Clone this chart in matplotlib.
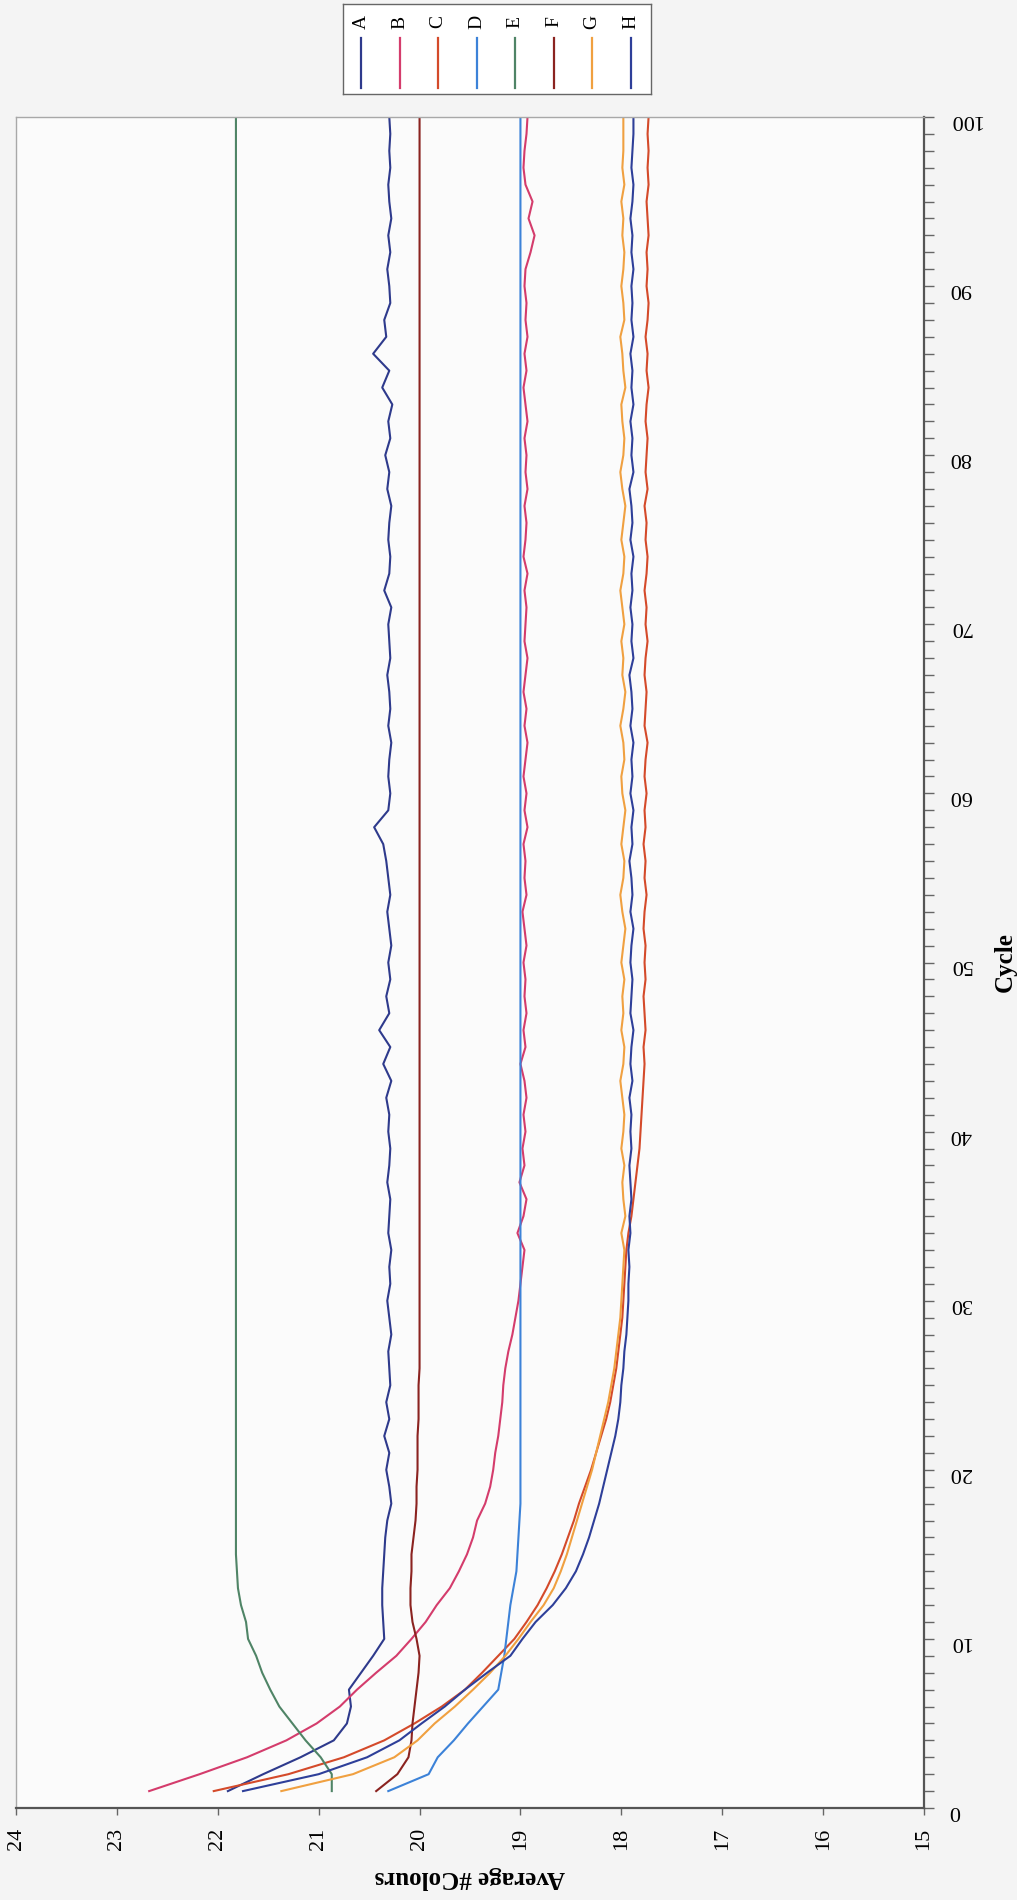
import matplotlib
matplotlib.use('Agg')
from matplotlib import pyplot as plt
from matplotlib.ticker import MultipleLocator

plt.rcParams['font.family'] = ['Liberation Serif', 'DejaVu Serif']

cycles = list(range(1, 101))
names = ['A', 'B', 'C', 'D', 'E', 'F', 'G', 'H']
colours = ['#2e3a8c', '#d43c6c', '#d44a2a', '#3c82d8', '#4f8466', '#8b2320', '#f0a040', '#2e3f99']

A = [21.90, 21.55, 21.18, 20.85, 20.72, 20.68, 20.70, 20.58, 20.46, 20.35,
     20.36, 20.37, 20.37, 20.36, 20.35, 20.34, 20.32, 20.28, 20.30, 20.33,
     20.30, 20.35, 20.30, 20.33, 20.29, 20.30, 20.31, 20.28, 20.30, 20.32,
     20.29, 20.30, 20.28, 20.31, 20.30, 20.29, 20.32, 20.30, 20.29, 20.31,
     20.30, 20.33, 20.28, 20.36, 20.29, 20.40, 20.30, 20.33, 20.29, 20.31,
     20.28, 20.30, 20.32, 20.29, 20.31, 20.33, 20.36, 20.45, 20.31, 20.29,
     20.31, 20.30, 20.28, 20.31, 20.29, 20.30, 20.32, 20.29, 20.30, 20.31,
     20.28, 20.35, 20.30, 20.29, 20.31, 20.30, 20.28, 20.32, 20.30, 20.34,
     20.29, 20.31, 20.27, 20.37, 20.30, 20.46, 20.33, 20.35, 20.29, 20.30,
     20.32, 20.29, 20.31, 20.28, 20.30, 20.31, 20.29, 20.30, 20.29, 20.30]

B = [22.68, 22.18, 21.71, 21.32, 21.02, 20.79, 20.62, 20.43, 20.23, 20.08,
     19.94, 19.83, 19.70, 19.61, 19.53, 19.47, 19.43, 19.35, 19.30, 19.27,
     19.25, 19.22, 19.20, 19.18, 19.17, 19.15, 19.12, 19.08, 19.05, 19.02,
     19.00, 18.98, 18.96, 19.03, 18.97, 18.94, 19.01, 18.96, 18.98, 18.95,
     18.97, 18.94, 18.96, 19.00, 18.95, 18.97, 18.94, 18.96, 18.95, 18.97,
     18.94, 18.96, 18.98, 18.94, 18.96, 18.95, 18.97, 18.93, 18.96, 18.94,
     18.97, 18.95, 18.93, 18.96, 18.94, 18.97, 18.95, 18.93, 18.96, 18.95,
     18.94, 18.96, 18.93, 18.97, 18.95, 18.94, 18.96, 18.93, 18.95, 18.94,
     18.96, 18.93, 18.95, 18.97, 18.94, 18.96, 18.93, 18.95, 18.94, 18.96,
     18.95, 18.90, 18.86, 18.92, 18.88, 18.95, 18.97, 18.96, 18.94, 18.93]

C = [22.04, 21.30, 20.75, 20.35, 20.05, 19.78, 19.55, 19.38, 19.22, 19.06,
     18.94, 18.83, 18.74, 18.66, 18.59, 18.53, 18.47, 18.42, 18.36, 18.30,
     18.25, 18.20, 18.15, 18.11, 18.08, 18.05, 18.03, 18.01, 17.99, 17.98,
     17.97, 17.96, 17.95, 17.93, 17.90, 17.88, 17.86, 17.84, 17.82, 17.81,
     17.80, 17.79, 17.78, 17.77, 17.78, 17.76, 17.77, 17.78, 17.76, 17.77,
     17.76, 17.78, 17.77, 17.75, 17.77, 17.76, 17.78, 17.76, 17.77, 17.75,
     17.77, 17.76, 17.74, 17.77, 17.76, 17.75, 17.77, 17.76, 17.74, 17.76,
     17.75, 17.77, 17.75, 17.74, 17.76, 17.75, 17.77, 17.74, 17.76, 17.75,
     17.74, 17.76, 17.75, 17.73, 17.75, 17.74, 17.76, 17.74, 17.73, 17.75,
     17.74, 17.75, 17.73, 17.74, 17.75, 17.73, 17.74, 17.73, 17.74, 17.73]

D = [20.31, 19.91, 19.82, 19.66, 19.52, 19.37, 19.22, 19.19, 19.16, 19.14,
     19.12, 19.10, 19.07, 19.04, 19.03, 19.02, 19.01, 19.00, 19.00, 19.00,
     19.00, 19.00, 19.00, 19.00, 19.00, 19.00, 19.00, 19.00, 19.00, 19.00,
     19.00, 19.00, 19.00, 19.00, 19.00, 19.00, 19.00, 19.00, 19.00, 19.00,
     19.00, 19.00, 19.00, 19.00, 19.00, 19.00, 19.00, 19.00, 19.00, 19.00,
     19.00, 19.00, 19.00, 19.00, 19.00, 19.00, 19.00, 19.00, 19.00, 19.00,
     19.00, 19.00, 19.00, 19.00, 19.00, 19.00, 19.00, 19.00, 19.00, 19.00,
     19.00, 19.00, 19.00, 19.00, 19.00, 19.00, 19.00, 19.00, 19.00, 19.00,
     19.00, 19.00, 19.00, 19.00, 19.00, 19.00, 19.00, 19.00, 19.00, 19.00,
     19.00, 19.00, 19.00, 19.00, 19.00, 19.00, 19.00, 19.00, 19.00, 19.00]

E = [20.87, 20.87, 20.98, 21.13, 21.26, 21.39, 21.48, 21.56, 21.62, 21.70,
     21.72, 21.77, 21.80, 21.81, 21.82, 21.82, 21.82, 21.82, 21.82, 21.82,
     21.82, 21.82, 21.82, 21.82, 21.82, 21.82, 21.82, 21.82, 21.82, 21.82,
     21.82, 21.82, 21.82, 21.82, 21.82, 21.82, 21.82, 21.82, 21.82, 21.82,
     21.82, 21.82, 21.82, 21.82, 21.82, 21.82, 21.82, 21.82, 21.82, 21.82,
     21.82, 21.82, 21.82, 21.82, 21.82, 21.82, 21.82, 21.82, 21.82, 21.82,
     21.82, 21.82, 21.82, 21.82, 21.82, 21.82, 21.82, 21.82, 21.82, 21.82,
     21.82, 21.82, 21.82, 21.82, 21.82, 21.82, 21.82, 21.82, 21.82, 21.82,
     21.82, 21.82, 21.82, 21.82, 21.82, 21.82, 21.82, 21.82, 21.82, 21.82,
     21.82, 21.82, 21.82, 21.82, 21.82, 21.82, 21.82, 21.82, 21.82, 21.82]

F = [20.43, 20.22, 20.11, 20.08, 20.07, 20.05, 20.03, 20.01, 20.00, 20.03,
     20.07, 20.09, 20.09, 20.08, 20.08, 20.06, 20.04, 20.03, 20.03, 20.02,
     20.02, 20.02, 20.01, 20.01, 20.01, 20.00, 20.00, 20.00, 20.00, 20.00,
     20.00, 20.00, 20.00, 20.00, 20.00, 20.00, 20.00, 20.00, 20.00, 20.00,
     20.00, 20.00, 20.00, 20.00, 20.00, 20.00, 20.00, 20.00, 20.00, 20.00,
     20.00, 20.00, 20.00, 20.00, 20.00, 20.00, 20.00, 20.00, 20.00, 20.00,
     20.00, 20.00, 20.00, 20.00, 20.00, 20.00, 20.00, 20.00, 20.00, 20.00,
     20.00, 20.00, 20.00, 20.00, 20.00, 20.00, 20.00, 20.00, 20.00, 20.00,
     20.00, 20.00, 20.00, 20.00, 20.00, 20.00, 20.00, 20.00, 20.00, 20.00,
     20.00, 20.00, 20.00, 20.00, 20.00, 20.00, 20.00, 20.00, 20.00, 20.00]

G = [21.37, 20.66, 20.25, 20.02, 19.85, 19.65, 19.47, 19.30, 19.15, 19.02,
     18.90, 18.77, 18.67, 18.60, 18.54, 18.49, 18.44, 18.39, 18.34, 18.29,
     18.25, 18.21, 18.17, 18.13, 18.10, 18.07, 18.05, 18.03, 18.01, 18.00,
     17.99, 17.98, 17.97, 18.00, 17.96, 17.98, 17.99, 17.97, 18.00, 17.98,
     17.97, 17.99, 18.01, 17.98, 17.97, 18.00, 17.98, 17.99, 17.97, 18.00,
     17.98, 17.96, 17.99, 18.01, 17.98, 17.97, 18.00, 17.98, 17.96, 17.99,
     18.00, 17.97, 17.98, 18.01, 17.98, 17.96, 17.99, 17.98, 18.00, 17.97,
     17.99, 18.01, 17.98, 17.97, 18.00, 17.98, 17.96, 17.99, 18.01, 17.98,
     17.97, 17.99, 18.00, 17.96, 17.98, 17.99, 18.01, 17.97, 17.98, 18.00,
     17.98, 17.97, 17.99, 17.98, 18.00, 17.97, 17.99, 17.98, 17.98, 17.98]

H = [21.75, 21.00, 20.52, 20.20, 19.98, 19.75, 19.55, 19.33, 19.10, 18.98,
     18.85, 18.68, 18.55, 18.45, 18.38, 18.32, 18.27, 18.22, 18.18, 18.14,
     18.10, 18.06, 18.03, 18.01, 18.00, 17.98, 17.97, 17.95, 17.94, 17.93,
     17.93, 17.92, 17.93, 17.91, 17.92, 17.90, 17.91, 17.92, 17.90, 17.91,
     17.90, 17.92, 17.89, 17.91, 17.90, 17.88, 17.91, 17.90, 17.89, 17.91,
     17.90, 17.88, 17.91, 17.89, 17.90, 17.92, 17.89, 17.90, 17.88, 17.91,
     17.89, 17.90, 17.88, 17.91, 17.89, 17.90, 17.92, 17.88, 17.90, 17.89,
     17.91, 17.89, 17.90, 17.88, 17.91, 17.89, 17.90, 17.92, 17.88, 17.90,
     17.89, 17.91, 17.88, 17.90, 17.89, 17.91, 17.88, 17.90, 17.89, 17.90,
     17.88, 17.90, 17.89, 17.91, 17.89, 17.88, 17.90, 17.89, 17.88, 17.88]

series = [A, B, C, D, E, F, G, H]

W, Hpx = 1017, 1900
fig = plt.figure(figsize=(W / 100, Hpx / 100), dpi=100, facecolor='#f4f4f4')

# the chart is printed sideways: value axis along the bottom, cycle axis on the right
ax = fig.add_axes([16 / W, 1 - 1808 / Hpx, (924 - 16) / W, (1808 - 117) / Hpx])
ax.set_facecolor('#fbfbfb')
for vals, col in zip(series, colours):
    ax.plot(vals, cycles, color=col, lw=1.5)

ax.set_xlim(24, 15)
ax.set_ylim(0, 100)
ax.set_xticks(range(15, 25))
ax.yaxis.set_major_locator(MultipleLocator(10))
ax.yaxis.set_minor_locator(MultipleLocator(1))
ax.yaxis.tick_right()
ax.yaxis.set_label_position('right')

ax.tick_params(axis='x', which='major', direction='out', length=5, width=1,
               color='#666666', labelsize=16, labelrotation=90, pad=9)
ax.tick_params(axis='y', which='both', direction='out', length=7, width=1,
               color='#666666', labelsize=16, labelrotation=180, pad=11)

for s in ['top', 'left']:
    ax.spines[s].set_color('#a8a8a8')
    ax.spines[s].set_linewidth(1)
for s in ['bottom', 'right']:
    ax.spines[s].set_color('#555555')
    ax.spines[s].set_linewidth(1.6)

ax.set_xlabel('Average #Colours', fontsize=18, fontweight='bold', rotation=180, labelpad=12)
ax.set_ylabel('Cycle', fontsize=18, fontweight='bold', rotation=90, labelpad=8)

# legend, also sideways: a row of vertical samples with rotated letters
lg = fig.add_axes([343 / W, 1 - 94 / Hpx, (651 - 343) / W, 90 / Hpx])
lg.set_facecolor('white')
lg.set_xlim(0, 8)
lg.set_ylim(0, 1)
lg.set_xticks([])
lg.set_yticks([])
for s in lg.spines.values():
    s.set_color('#666666')
    s.set_linewidth(1)
for i, (name, col) in enumerate(zip(names, colours)):
    lg.plot([i + 0.47, i + 0.47], [0.07, 0.62], color=col, lw=1.6)
    lg.text(i + 0.47, 0.80, name, rotation=90, ha='center', va='center', fontsize=14)

fig.savefig('out.png', dpi=100, facecolor=fig.get_facecolor())
